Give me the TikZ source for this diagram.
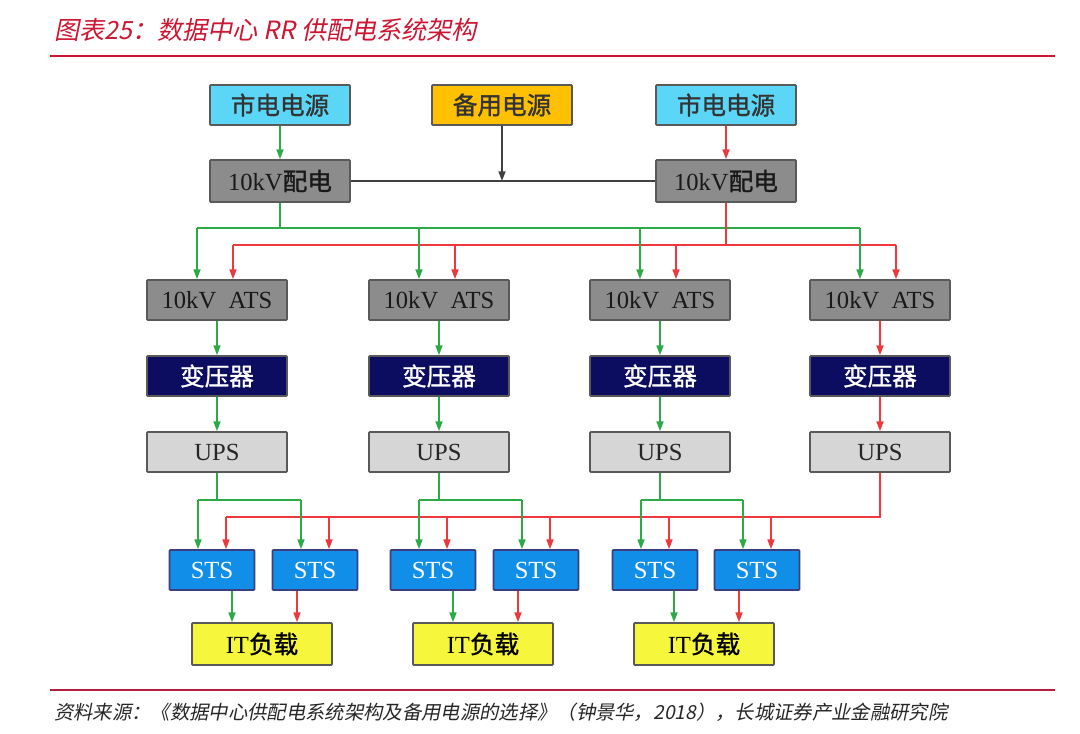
\documentclass[tikz,border=0pt]{standalone}
\usepackage{fontspec}
\setmainfont{Liberation Serif}
\newfontfamily\cjk[FakeBold=1.2]{Noto Sans CJK SC}
\newfontfamily\cjkit[FakeSlant=0.2]{Noto Sans CJK SC}
\usetikzlibrary{arrows.meta}

\definecolor{titlered}{RGB}{204,22,50}
\definecolor{footred}{RGB}{180,30,60}
\definecolor{citycyan}{RGB}{92,214,246}
\definecolor{backorange}{RGB}{255,192,0}
\definecolor{distgray}{RGB}{140,140,140}
\definecolor{xfnavy}{RGB}{12,12,96}
\definecolor{upsgray}{RGB}{214,214,214}
\definecolor{stsblue}{RGB}{16,142,232}
\definecolor{loadyellow}{RGB}{246,246,60}
\definecolor{feedgreen}{RGB}{44,170,70}
\definecolor{feedred}{RGB}{238,56,60}

\tikzset{
  box/.style={draw=black!65, line width=1pt, rounded corners=0.5pt, inner sep=0pt,
    minimum width=2.8cm, minimum height=0.8cm, font=\fontsize{14}{16}\selectfont},
  src/.style={box, text=black!80},
  dist/.style={box, fill=distgray, text=black!90},
  xfmr/.style={box, fill=xfnavy, text=white},
  ups/.style={box, fill=upsgray, text=black!85},
  sts/.style={box, fill=stsblue, draw=xfnavy!80, text=white, minimum width=1.7cm},
  load/.style={box, fill=loadyellow, minimum height=0.84cm},
  gline/.style={feedgreen, line width=0.8pt},
  rline/.style={feedred, line width=0.8pt},
  kline/.style={black!75, line width=0.8pt},
}

\begin{document}
\begin{tikzpicture}[x=0.02cm, y=-0.02cm, >={Triangle[length=5.5pt,width=4pt]}]
    \useasboundingbox (0,0) rectangle (1080,734);

    % Title and rule
    \node[anchor=west, text=titlered, font=\cjkit\fontsize{14.3}{16}\selectfont] (title) at (48,30) {图表25：数据中心 RR 供配电系统架构};
    \draw[titlered, line width=1.2pt] (50,56) -- (1055,56);

    % Sources and 10kV distribution
    \node[src, fill=citycyan] (grid1) at (280,105) {\cjk 市电电源};
    \node[src, fill=backorange] (backup) at (502,105) {\cjk 备用电源};
    \node[src, fill=citycyan] (grid2) at (726,105) {\cjk 市电电源};
    \node[dist, minimum height=0.84cm] (dist1) at (280,181) {10kV{\cjk 配电}};
    \node[dist, minimum height=0.84cm] (dist2) at (726,181) {10kV{\cjk 配电}};

    \draw[gline, ->] (grid1) -- (dist1);
    \draw[rline, ->] (grid2) -- (dist2);
    \draw[kline] (dist1) -- (dist2);
    \coordinate (tie) at (backup |- dist1);
    \draw[kline, ->] (backup) -- (tie);

    % ATS / transformer / UPS columns
    \foreach \i/\x in {1/217, 2/439, 3/660, 4/880} {
        \node[dist] (ats\i) at (\x,300) {10kV\ \ ATS};
        \node[xfmr] (xf\i) at (\x,376) {\cjk 变压器};
        \node[ups] (ups\i) at (\x,452) {UPS};
        \coordinate (gin\i) at ([xshift=-0.4cm]ats\i.north);
        \coordinate (rin\i) at ([xshift=0.32cm]ats\i.north);
    }

    % Feeders to the ATS
    \coordinate (gbus) at (280,228);
    \coordinate (rbus) at (726,245);
    \draw[gline] (dist1) -- (gbus);
    \draw[gline] (gin1 |- gbus) -- (gin4 |- gbus);
    \draw[rline] (dist2) -- (rbus);
    \draw[rline] (rin1 |- rbus) -- (rin4 |- rbus);
    \foreach \i in {1,...,4} {
        \draw[gline, ->] (gin\i |- gbus) -- (gin\i);
        \draw[rline, ->] (rin\i |- rbus) -- (rin\i);
    }
    \foreach \i in {1,2,3} {
        \draw[gline, ->] (ats\i) -- (xf\i);
        \draw[gline, ->] (xf\i) -- (ups\i);
    }
    \draw[rline, ->] (ats4) -- (xf4);
    \draw[rline, ->] (xf4) -- (ups4);

    % STS and IT loads
    \foreach \j/\x in {1/212, 2/315, 3/433, 4/536, 5/655, 6/757} {
        \node[sts] (sts\j) at (\x,570) {STS};
        \coordinate (sg\j) at ([xshift=-0.28cm]sts\j.north);
        \coordinate (sr\j) at ([xshift=0.28cm]sts\j.north);
    }
    \foreach \k/\x in {1/262, 2/483, 3/704} {
        \node[load] (it\k) at (\x,644) {IT{\cjk 负载}};
        \coordinate (ig\k) at ([xshift=-0.6cm]it\k.north);
        \coordinate (ir\k) at ([xshift=0.7cm]it\k.north);
    }

    % Red path from the fourth UPS
    \coordinate (rb) at ([yshift=-0.88cm]ups4.south);
    \draw[rline] (ups4) -- (rb) -- (sr1 |- rb);
    \foreach \j in {1,...,6}
        \draw[rline, ->] (sr\j |- rb) -- (sr\j);

    % Green pairs from UPS 1-3
    \foreach \k/\a/\b in {1/1/2, 2/3/4, 3/5/6} {
        \coordinate (gb\k) at ([yshift=-0.54cm]ups\k.south);
        \draw[gline] (ups\k) -- (gb\k);
        \draw[gline] (sg\a |- gb\k) -- (sg\b |- gb\k);
        \draw[gline, ->] (sg\a |- gb\k) -- (sg\a);
        \draw[gline, ->] (sg\b |- gb\k) -- (sg\b);
        \draw[gline, ->] (ig\k |- sts\a.south) -- (ig\k);
        \draw[rline, ->] (ir\k |- sts\b.south) -- (ir\k);
    }

    % Source note
    \draw[footred, line width=1.2pt] (50,690) -- (1055,690);
    \node[anchor=west, text=black!85, font=\cjkit\fontsize{11}{12}\selectfont] (source) at (48,712) {资料来源：《数据中心供配电系统架构及备用电源的选择》（钟景华，2018），长城证券产业金融研究院};
\end{tikzpicture}
\end{document}
